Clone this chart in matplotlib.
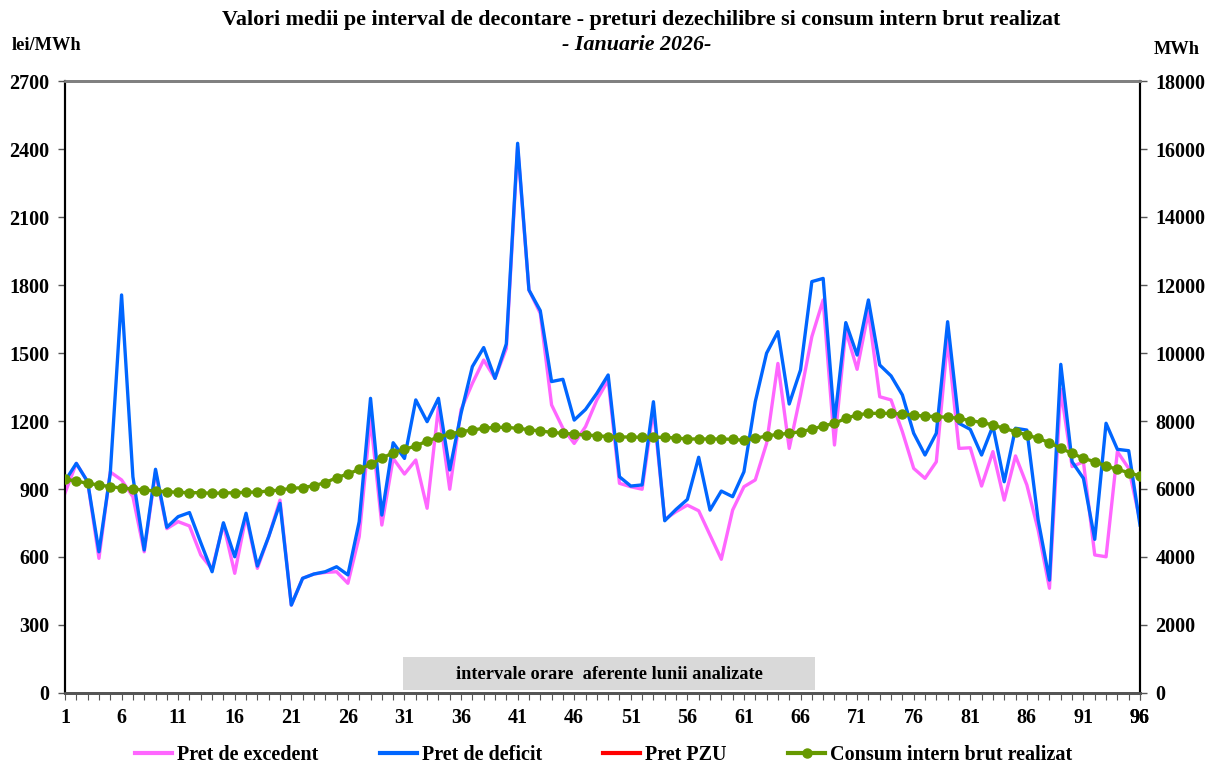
import matplotlib
matplotlib.use("Agg")
import matplotlib.pyplot as plt
from matplotlib.lines import Line2D
from matplotlib.patches import Rectangle

intervals = list(range(1, 97))

pret_excedent = [882, 1013, 932, 594, 975, 940, 866, 623, 975, 725,
                 756, 737, 609, 546, 745, 528, 780, 550, 690, 851,
                 388, 506, 525, 532, 535, 484, 690, 1210, 741, 1035,
                 966, 1028, 815, 1260, 899, 1250, 1366, 1469, 1388, 1520,
                 2410, 1778, 1675, 1271, 1168, 1101, 1175, 1293, 1380, 925,
                 910, 899, 1250, 766, 800, 829, 804, 697, 590, 807,
                 910, 940, 1101, 1454, 1079, 1315, 1572, 1734, 1094, 1600,
                 1428, 1682, 1307, 1293, 1153, 991, 947, 1020, 1560, 1079,
                 1082, 913, 1065, 851, 1046, 918, 719, 462, 1340, 999,
                 1020, 609, 601, 1065, 991, 760]

pret_deficit = [935, 1013, 932, 623, 969, 1756, 954, 631, 987, 731,
                778, 796, 663, 535, 751, 601, 793, 560, 690, 837,
                388, 506, 525, 535, 557, 521, 756, 1300, 785, 1104,
                1035, 1293, 1197, 1300, 984, 1234, 1440, 1524, 1388, 1540,
                2425, 1778, 1687, 1374, 1384, 1204, 1251, 1322, 1403, 954,
                913, 918, 1285, 760, 810, 854, 1040, 807, 891, 866,
                976, 1285, 1499, 1594, 1275, 1425, 1815, 1829, 1197, 1634,
                1491, 1734, 1447, 1399, 1315, 1146, 1050, 1146, 1638, 1190,
                1163, 1050, 1178, 932, 1168, 1160, 763, 498, 1450, 1020,
                947, 678, 1190, 1075, 1069, 741]

pret_pzu = []  # not drawn in the reference (legend entry only)

consum = [6285, 6235, 6167, 6118, 6069, 6029, 6000, 5971, 5941, 5921,
          5902, 5892, 5892, 5873, 5882, 5892, 5902, 5912, 5941, 5971,
          6020, 6039, 6098, 6186, 6333, 6441, 6578, 6725, 6902, 7069,
          7167, 7265, 7412, 7520, 7618, 7686, 7735, 7784, 7814, 7814,
          7784, 7745, 7706, 7667, 7637, 7618, 7588, 7569, 7539, 7530,
          7530, 7520, 7520, 7520, 7500, 7471, 7471, 7471, 7471, 7461,
          7431, 7490, 7559, 7608, 7637, 7686, 7755, 7853, 7931, 8078,
          8176, 8225, 8225, 8225, 8206, 8167, 8147, 8127, 8110, 8078,
          8010, 7961, 7882, 7784, 7686, 7588, 7490, 7363, 7196, 7049,
          6902, 6804, 6676, 6578, 6480, 6382]

left_ticks = list(range(0, 2701, 300))
right_ticks = list(range(0, 18001, 2000))
x_labels = list(range(1, 97, 5)) + [96]

plt.rcParams['font.family'] = ['Liberation Serif', 'DejaVu Serif']
plt.rcParams['font.weight'] = 'bold'

W, H = 1205, 767
fig = plt.figure(figsize=(W/100, H/100), dpi=100)
ax = fig.add_axes([65/W, 74/H, 1075/W, 612/H])
ax2 = ax.twinx()

c_pink = '#FF66FF'
c_blue = '#0066FF'
c_red = '#FF0000'
c_green = '#669900'

ax.add_patch(Rectangle((30.87, 13), 67.28 - 30.87, 146, facecolor='#D9D9D9',
                       edgecolor='none', zorder=1))
ax.text((30.87 + 67.28) / 2, 80, 'intervale orare  aferente lunii analizate',
        ha='center', va='center', fontsize=13.2, fontweight='bold', zorder=2)

ax.plot(intervals, pret_excedent, color=c_pink, lw=2.4, zorder=3)
ax.plot(intervals, pret_deficit, color=c_blue, lw=2.4, zorder=4)
if pret_pzu:
    ax.plot(intervals[:len(pret_pzu)], pret_pzu, color=c_red, lw=2.4, zorder=4)
ax2.plot(intervals, consum, color=c_green, lw=2.4, marker='o', ms=6.5,
         markeredgecolor=c_green, zorder=5)

ax.set_xlim(1, 96)
ax.set_ylim(0, 2700)
ax2.set_ylim(0, 18000)
ax.set_yticks(left_ticks)
ax2.set_yticks(right_ticks)
ax.set_xticks(x_labels)
ax.set_xticks(intervals, minor=True)
ax.tick_params(axis='x', which='both', length=5, width=0.8, color='#555555',
               labelsize=14.5, pad=6)
ax.tick_params(axis='y', length=5, width=1, color='#555555', labelsize=14.5, pad=6)
ax2.tick_params(axis='y', length=5, width=1, color='#555555', labelsize=14.5, pad=6)
for lab in ax.get_xticklabels() + ax.get_yticklabels() + ax2.get_yticklabels():
    lab.set_fontweight('bold')

for a in (ax, ax2):
    a.spines['top'].set_color('#808080')
    a.spines['top'].set_linewidth(2)
    a.spines['bottom'].set_color('#555555')
    a.spines['bottom'].set_linewidth(2)
    a.spines['left'].set_color('black')
    a.spines['left'].set_linewidth(1.5)
    a.spines['right'].set_color('black')
    a.spines['right'].set_linewidth(1.5)

ax.set_zorder(1)
ax2.set_zorder(2)
ax2.patch.set_visible(False)

fig.text(641/W, 1 - 20/H, 'Valori medii pe interval de decontare - preturi dezechilibre si consum intern brut realizat',
         ha='center', va='center', fontsize=15.8, fontweight='bold')
fig.text(637/W, 1 - 45/H, '- Ianuarie 2026-', ha='center', va='center',
         fontsize=15.8, fontweight='bold', style='italic')
fig.text(12/W, 1 - 46/H, 'lei/MWh', ha='left', va='center', fontsize=13.2, fontweight='bold')
fig.text(1200/W, 1 - 50/H, 'MWh', ha='right', va='center', fontsize=13.2, fontweight='bold')

entries = [
    (Line2D([], [], color=c_pink, lw=3), 'Pret de excedent', 135),
    (Line2D([], [], color=c_blue, lw=3), 'Pret de deficit', 380),
    (Line2D([], [], color=c_red, lw=3), 'Pret PZU', 603),
    (Line2D([], [], color=c_green, lw=3, marker='o', ms=6.5), 'Consum intern brut realizat', 788),
]
for h, lbl, xpx in entries:
    fig.legend([h], [lbl], loc='center left', bbox_to_anchor=(xpx/W, 1 - 755/H),
               frameon=False, borderpad=0, borderaxespad=0, handlelength=1.85,
               handletextpad=0.25, prop={'weight': 'bold', 'size': 14.5})

fig.savefig('out.png', dpi=100)
